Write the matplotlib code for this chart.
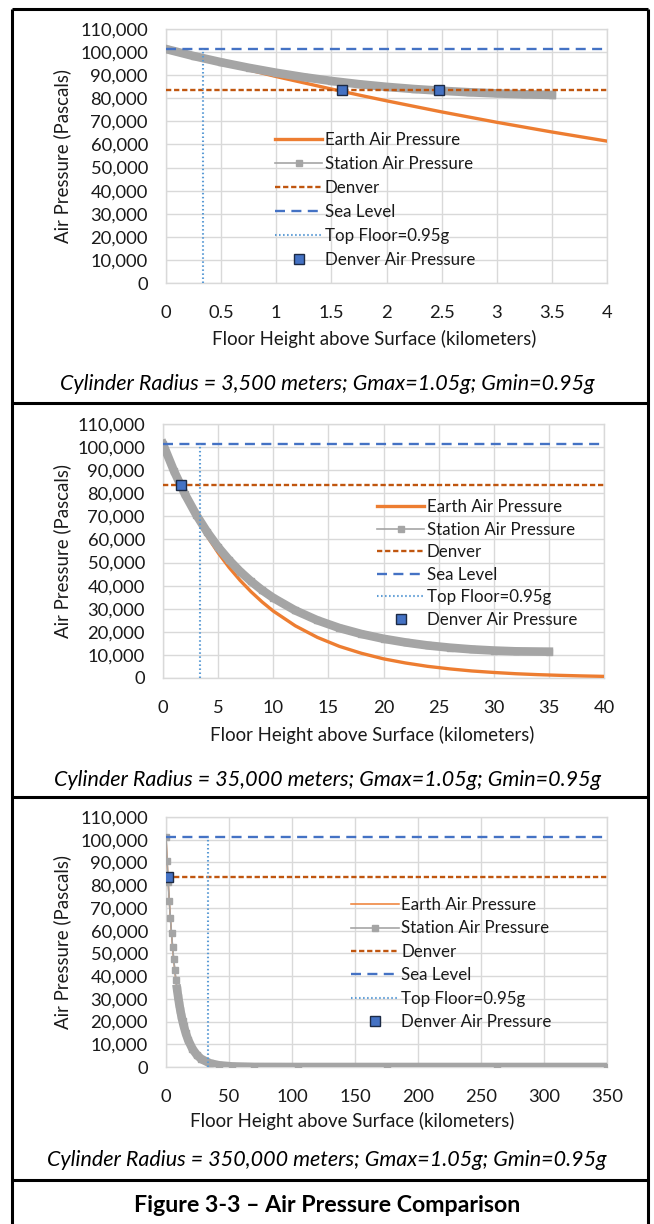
import matplotlib
matplotlib.use('Agg')
import matplotlib.pyplot as plt
from matplotlib.lines import Line2D
import matplotlib.ticker as mtick

plt.rcParams['font.family'] = ['Lato', 'DejaVu Sans']
plt.rcParams['lines.scale_dashes'] = False

# --- data -------------------------------------------------------------------
sea_level = 101325
denver = 83700

# radius 3,500 m
earth1_h = [0, 0.25, 0.5, 0.75, 1.0, 1.25, 1.5, 1.75, 2.0, 2.5, 3.0, 3.5, 4.0]
earth1_p = [101325, 98200, 95200, 92300, 89400, 86700, 84000, 81400, 78900,
            74100, 69600, 65400, 61450]
station1_h = [0, 0.25, 0.5, 0.75, 1.0, 1.25, 1.5, 1.75, 2.0, 2.25, 2.5, 2.75,
              3.0, 3.25, 3.5]
station1_p = [101325, 98300, 95600, 93200, 91050, 89150, 87500, 86100, 84950,
              84000, 83250, 82600, 82100, 81700, 81450]
top_floor1 = 0.333
denver_pts1_h = [1.6, 2.48]

# radius 35,000 m
earth2_h = [0, 1, 2, 3, 4, 5, 6, 7, 8, 9, 10, 12, 14, 16, 18, 20, 22, 24, 26,
            28, 30, 32, 34, 36, 38, 40]
earth2_p = [101325, 89400, 78900, 69600, 61450, 54250, 47850, 42250, 37300,
            32900, 29000, 22600, 17600, 13700, 10700, 8300, 6500, 5050, 3950,
            3050, 2400, 1850, 1450, 1150, 900, 700]
station2_h = [0, 1, 2, 3, 4, 5, 6, 7, 8, 9, 10, 12, 14, 16, 18, 20, 22, 24,
              26, 28, 30, 32, 35]
station2_p = [101325, 89600, 79500, 70800, 63250, 56700, 51050, 46100, 41800,
              38000, 34700, 29250, 25000, 21650, 19050, 17000, 15400, 14100,
              13150, 12400, 11900, 11550, 11400]
top_floor2 = 3.33
denver_pts2_h = [1.65]

# radius 350,000 m
earth3_h = [0, 1, 2, 3, 4, 5, 6, 8, 10, 12, 14, 16, 20, 25, 30, 40, 50, 60,
            80, 100, 150, 200, 250, 300, 350]
earth3_p = [101325, 89400, 78900, 69600, 61450, 54250, 47850, 37300, 29000,
            22600, 17600, 13700, 8300, 4450, 2400, 700, 200, 60, 5, 0, 0, 0,
            0, 0, 0]
station3_h = [0, 0.875, 1.75, 2.625, 3.5, 4.375, 5.25, 6.125, 7.0, 7.875,
              8.75, 9.625, 10.5, 11.375, 12.25, 13.125, 14.0, 15.75, 17.5,
              21.0, 24.5, 28.0, 35.0, 42.0, 52.5, 70.0, 105.0, 175.0, 262.5,
              350.0]
station3_p = [101325, 90850, 81450, 73050, 65550, 58850, 52850, 47450, 42600,
              38300, 34400, 30950, 27800, 25000, 22500, 20250, 18250, 14800,
              12000, 7950, 5300, 3500, 1600, 750, 250, 40, 0, 0, 0, 0]
top_floor3 = 33.3
denver_pts3_h = [1.5]

x_labels = ['Floor Height above Surface (kilometers)'] * 3
captions = ['Cylinder Radius = 3,500 meters; Gmax=1.05g; Gmin=0.95g',
            'Cylinder Radius = 35,000 meters; Gmax=1.05g; Gmin=0.95g',
            'Cylinder Radius = 350,000 meters; Gmax=1.05g; Gmin=0.95g']
figure_title = 'Figure 3-3 \u2013 Air Pressure Comparison'

# --- styling ----------------------------------------------------------------
ORANGE = '#ED7D31'
GRAY = '#A5A5A5'
DENVER_C = '#C0560F'
BLUE = '#4472C4'
LIGHT_BLUE = '#5B9BD5'
GRID = '#D9D9D9'
TXT = '#1a1a1a'
TICK_FS = 13.2
LABEL_FS = 13.4
LEGEND_FS = 12.2

W, H = 654, 1224
fig = plt.figure(figsize=(W / 100, H / 100), dpi=100)


def px_axes(x0, y0, x1, y1):
    return fig.add_axes([x0 / W, 1 - y1 / H, (x1 - x0) / W, (y1 - y0) / H])


def draw_panel(ax, earth_h, earth_p, st_h, st_p, top_floor, denver_h, xmax,
               xstep, earth_lw, band_from, legend_at, legend_gap):
    ax.plot(earth_h, earth_p, color=ORANGE, lw=earth_lw, zorder=3,
            label='Earth Air Pressure')
    # dense station markers merge into a wide band
    ax.plot(st_h[band_from:], st_p[band_from:], color=GRAY, lw=6.2,
            solid_capstyle='projecting', solid_joinstyle='round', zorder=4)
    ax.plot(st_h, st_p, color=GRAY, lw=1.2, marker='s', ms=4.8, mec=GRAY,
            mfc=GRAY, zorder=4, label='Station Air Pressure')
    ax.axhline(denver, color=DENVER_C, lw=1.7, dashes=(3.8, 2.0), zorder=5,
               label='Denver')
    ax.axhline(sea_level, color=BLUE, lw=1.7, dashes=(7.2, 4.6), zorder=5,
               label='Sea Level')
    ax.plot([top_floor, top_floor], [0, sea_level], color=LIGHT_BLUE, lw=1.5,
            dashes=(1.1, 1.8), zorder=5, label='Top Floor=0.95g')
    ax.plot(denver_h, [denver] * len(denver_h), ls='none', marker='s', ms=7,
            mfc=BLUE, mec='#1c2a44', mew=1.0, zorder=6,
            label='Denver Air Pressure')

    ax.set_xlim(0, xmax)
    ax.set_ylim(0, 110000)
    ax.set_xticks([i * xstep for i in range(int(round(xmax / xstep)) + 1)])
    ax.set_yticks(range(0, 110001, 10000))
    ax.yaxis.set_major_formatter(mtick.StrMethodFormatter('{x:,.0f}'))
    ax.xaxis.set_major_formatter(mtick.FuncFormatter(lambda v, p: f'{v:g}'))
    ax.tick_params(length=0, labelsize=TICK_FS, colors=TXT)
    ax.tick_params(axis='y', pad=13)
    ax.tick_params(axis='x', pad=16)
    ax.grid(True, color=GRID, lw=1.0, zorder=0)
    ax.set_axisbelow(True)
    for s in ax.spines.values():
        s.set_color(GRID)
        s.set_linewidth(1.0)

    leg = ax.legend(loc='upper left', bbox_to_anchor=legend_at, frameon=False,
                    fontsize=LEGEND_FS, handlelength=2.8, handletextpad=0.15,
                    labelspacing=legend_gap, borderpad=0, borderaxespad=0)
    for t in leg.get_texts():
        t.set_color(TXT)


ax1 = px_axes(166, 29, 607, 283)
draw_panel(ax1, earth1_h, earth1_p, station1_h, station1_p, top_floor1,
           denver_pts1_h, 4, 0.5, 2.4, 0, (0.247, 0.595), 0.47)
ax2 = px_axes(163, 424, 604, 678)
draw_panel(ax2, earth2_h, earth2_p, station2_h, station2_p, top_floor2,
           denver_pts2_h, 40, 5, 2.4, 0, (0.485, 0.705), 0.39)
ax3 = px_axes(166, 817, 607, 1067)
draw_panel(ax3, earth3_h, earth3_p, station3_h, station3_p, top_floor3,
           denver_pts3_h, 350, 50, 1.1, 10, (0.42, 0.68), 0.44)

# axis titles and captions
for (xc, yc), yl_y, txt in zip([(374, 339), (372, 735), (352, 1121)],
                               [156, 551, 942], x_labels):
    fig.text(xc / W, 1 - yc / H, txt, ha='center', va='center',
             fontsize=LABEL_FS, color=TXT)
    fig.text(62 / W, 1 - yl_y / H, 'Air Pressure (Pascals)', rotation=90,
             ha='center', va='center', fontsize=LABEL_FS, color=TXT)

for yc, txt in zip([384, 780, 1160], captions):
    fig.text(327 / W, 1 - yc / H, txt, ha='center', va='center',
             fontsize=15.5, style='italic', color='black')
fig.text(327 / W, 1 - 1206 / H, figure_title, ha='center', va='center',
         fontsize=16.7, weight='bold', color='black')

# frame and panel dividers
box = dict(color='black', lw=2.2, transform=fig.transFigure, solid_capstyle='butt')
fig.add_artist(Line2D([12 / W, 12 / W], [0, 1 - 9 / H], **box))
fig.add_artist(Line2D([648 / W, 648 / W], [0, 1 - 9 / H], **box))
for yd in [9, 403, 797, 1180]:
    fig.add_artist(Line2D([12 / W, 648 / W], [1 - yd / H, 1 - yd / H], **box))

fig.savefig('out.png', dpi=100, facecolor='white')
